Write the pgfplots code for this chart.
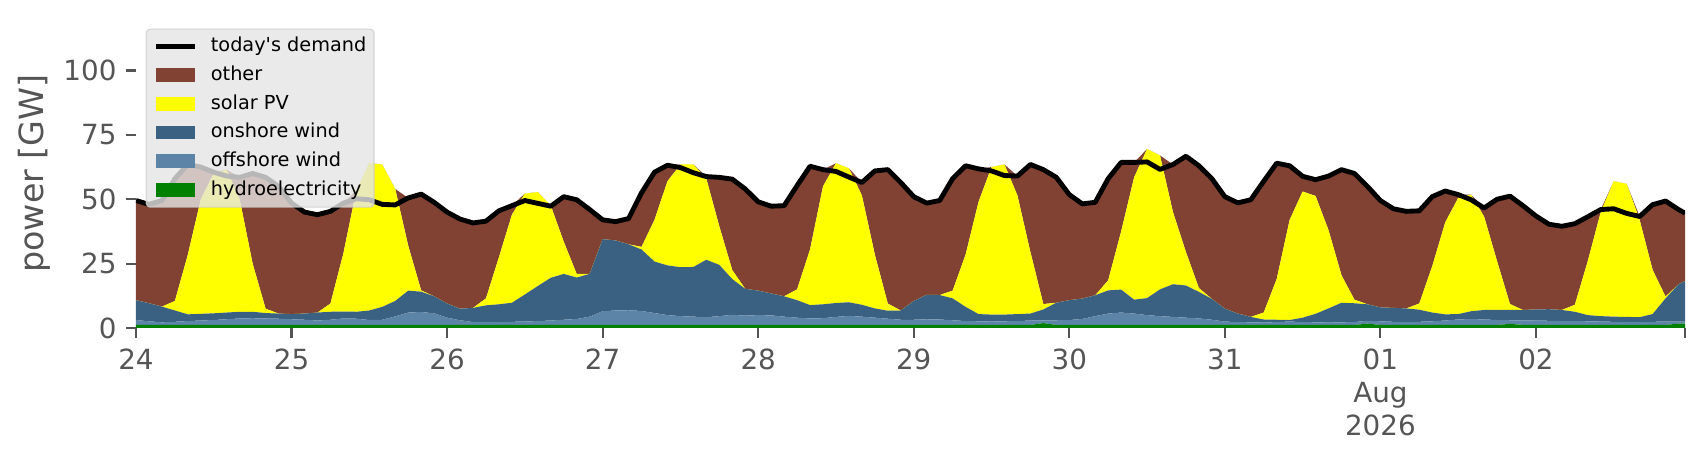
\documentclass[border=0pt]{standalone}
\usepackage{fontspec}
\setmainfont{DejaVu Sans}
\usepackage{pgfplots}
\usepackage{pgfplotstable}
\pgfplotsset{compat=1.18}
\definecolor{cother}{HTML}{814234}
\definecolor{csolar}{HTML}{FFFF00}
\definecolor{conshore}{HTML}{3B6182}
\definecolor{coffshore}{HTML}{5C84A6}
\definecolor{chydro}{HTML}{008000}
\definecolor{cgray}{HTML}{555555}
\definecolor{clegbg}{HTML}{E5E5E5}
\definecolor{clegedge}{HTML}{CCCCCC}
\pgfplotstableread{
h hydro off on sol oth dem
0 1.2 1.9 7.7 0 38.7 49.5
2 1.2 1.4 7.0 0 38.4 48.0
4 1.2 1.0 6.1 0 41.2 49.5
6 1.2 1.2 4.4 3.7 47.5 58.0
8 1.2 1.5 2.6 23.2 35.0 63.5
10 1.2 1.7 2.6 44.5 12.5 62.5
12 1.2 1.9 2.6 54.3 0.5 60.5
14 1.2 2.2 2.6 55.5 0 59.0
16 1.2 2.5 2.6 43.7 8.5 58.5
18 1.2 2.6 2.5 18.7 35.0 60.0
20 1.2 2.5 2.1 1.7 51.0 58.5
22 1.2 2.4 2.0 0 49.4 55.0
24 1.2 2.2 2.0 0 43.1 48.5
26 1.2 2.0 2.4 0 39.4 45.0
28 1.2 1.7 3.1 0 38.0 44.0
30 1.2 2.0 3.1 3.2 35.8 45.3
32 1.2 2.5 2.7 22.6 19.5 48.5
34 1.2 2.4 2.7 47.2 0 50.2
36 1.2 1.9 3.7 57.2 0 49.8
38 1.2 2.0 5.0 55.3 0 48.0
40 1.2 3.3 6.0 43.5 0 47.8
42 1.2 4.8 8.5 17.5 18.5 50.5
44 1.2 5.0 7.9 0.5 37.4 52.0
46 1.2 4.5 6.6 0 36.5 48.8
48 1.2 2.8 5.5 0 35.5 45.0
50 1.2 1.8 4.5 0 34.8 42.3
52 1.2 1.1 5.5 0 33.0 40.8
54 1.2 1.1 6.5 2.7 30.0 41.5
56 1.2 1.1 6.9 18.3 18.0 45.5
58 1.2 1.2 7.4 34.2 3.5 47.5
60 1.2 1.3 10.5 39.2 0 49.5
62 1.2 1.5 13.6 36.5 0 48.4
64 1.2 1.7 16.6 28.0 0 47.3
66 1.2 2.0 17.8 12.5 17.5 51.0
68 1.2 2.3 16.1 1.4 28.8 49.8
70 1.2 3.2 16.6 0 25.0 46.0
72 1.2 5.3 28.0 0 7.5 42.0
74 1.2 5.6 27.2 0 7.3 41.3
76 1.2 5.7 25.6 0 10.0 42.5
78 1.2 5.4 23.9 1.0 21.0 52.5
80 1.2 4.6 20.0 16.2 18.5 60.5
82 1.2 3.8 19.3 32.7 6.2 63.2
84 1.2 3.4 19.0 39.9 0 62.3
86 1.2 3.2 19.3 39.8 0 60.3
88 1.2 3.0 22.3 31.5 0.8 58.8
90 1.2 3.4 19.9 15.0 19.0 58.5
92 1.2 3.9 13.9 3.5 35.3 57.8
94 1.2 3.6 10.4 0 38.8 54.0
96 1.2 3.8 9.5 0 34.5 49.0
98 1.2 3.7 8.5 0 33.9 47.3
100 1.2 3.2 7.9 0 35.2 47.5
102 1.2 2.8 6.8 4.2 40.3 55.3
104 1.2 2.5 5.2 21.6 32.3 62.8
106 1.2 2.6 5.4 45.8 6.5 61.5
108 1.2 3.1 5.4 54.3 0 60.8
110 1.2 3.5 5.3 52.0 0 58.6
112 1.2 3.2 4.6 42.5 5.0 56.5
114 1.2 2.8 3.6 20.9 32.5 61.0
116 1.2 2.4 3.1 2.8 52.0 61.5
118 1.2 2.0 3.6 0 49.7 56.5
120 1.2 2.0 7.3 0 40.5 51.0
122 1.2 2.2 9.5 0 35.6 48.5
124 1.2 2.1 9.5 0 36.7 49.5
126 1.2 1.8 8.5 3.0 43.5 58.0
128 1.2 1.5 5.5 20.3 34.5 63.0
130 1.2 1.4 2.8 43.6 12.8 61.8
132 1.2 1.3 2.7 57.3 0 61.0
134 1.2 1.4 2.6 58.3 0 59.2
136 1.2 1.5 2.7 46.1 7.5 59.0
138 1.2 1.7 2.7 23.9 34.0 63.5
140 1.9 1.1 4.2 2.1 52.2 61.5
142 1.2 1.8 6.8 0 48.7 58.5
144 1.2 1.9 7.7 0 41.0 51.8
146 1.2 2.3 7.9 0 36.8 48.2
148 1.2 3.4 8.1 0 36.1 48.8
150 1.2 4.4 9.0 3.9 39.5 58.0
152 1.2 4.8 8.9 22.6 26.8 64.3
154 1.2 4.4 5.4 47.5 5.8 64.3
156 1.2 3.8 6.6 57.9 0 64.5
158 1.2 3.4 10.4 52.0 0 61.6
160 1.2 3.1 12.7 28.0 18.5 63.5
162 1.2 2.8 12.5 13.0 37.2 66.7
164 1.2 2.5 10.3 1.5 47.5 63.0
166 1.2 2.0 8.1 0 46.7 58.0
168 1.2 1.3 5.0 0 43.5 51.0
170 1.2 1.1 3.3 0 43.0 48.6
172 1.2 1.0 2.1 0 45.5 49.8
174 1.2 0.9 1.2 2.7 51.0 57.0
176 1.2 1.1 0.9 15.8 45.0 64.0
178 1.2 1.3 0.6 38.9 21.0 63.0
180 1.2 1.1 1.7 49.0 5.9 58.9
182 1.2 1.0 3.3 45.8 6.3 57.6
184 1.2 0.9 5.5 30.4 21.0 59.0
186 1.2 1.0 7.6 10.7 41.0 61.5
188 1.2 1.1 7.3 1.4 49.0 60.0
190 1.7 1.1 6.4 0 45.8 55.0
192 1.2 1.4 5.4 0 41.5 49.5
194 1.2 1.2 5.4 0 38.5 46.3
196 1.2 1.1 5.3 0 37.7 45.3
198 1.2 1.2 4.7 2.4 36.0 45.5
200 1.2 1.4 3.4 18.0 27.0 51.0
202 1.2 1.7 2.4 35.7 12.2 53.2
204 1.2 2.1 2.1 45.1 1.3 51.8
206 1.2 2.3 3.0 45.3 0 49.8
208 1.2 2.1 3.7 36.3 3.3 46.6
210 1.2 1.9 3.9 19.0 24.0 50.0
212 1.6 1.4 4.0 2.3 41.9 51.2
214 1.2 1.8 4.0 0 40.5 47.5
216 1.2 1.7 4.3 0 36.3 43.5
218 1.2 1.6 4.5 0 33.0 40.3
220 1.2 1.5 4.3 0 32.5 39.5
222 1.2 1.5 3.6 2.7 31.5 40.5
224 1.2 1.4 2.4 21.0 17.2 43.2
226 1.2 1.3 2.1 40.4 1.0 46.0
228 1.2 1.2 2.0 52.6 0 46.3
230 1.2 1.1 2.0 51.7 0 44.5
232 1.2 1.1 1.9 37.8 1.3 43.3
234 1.2 1.2 3.0 17.2 25.3 47.9
236 1.2 1.3 9.0 0.7 37.1 49.3
238 1.7 0.8 14.5 0 29.0 46.0
239 1.7 0.8 15.7 0 26.4 44.6
}\gendata
\pgfplotsset{
  arealeg/.style={legend image code/.code={\fill[##1,fill opacity=1,draw=none,sharp corners] (0pt,-2.43pt) rectangle (13.9pt,2.43pt); \path (19.44pt,0pt);}},
  lineleg/.style={legend image code/.code={\draw[##1,draw opacity=1,sharp corners,line width=1.75pt] (0pt,0pt) -- (13.9pt,0pt); \path (19.44pt,0pt);}},
  myframe/.style={at={(0pt,0pt)}, anchor=south west,
    width=557.64pt, height=111.24pt, scale only axis,
    xmin=0, xmax=239, ymin=0, ymax=120},
}
\begin{document}
\begin{tikzpicture}
\useasboundingbox (-48.96pt,-47.52pt) rectangle (565.2pt,118.08pt);
\begin{axis}[
  myframe,
  axis lines*=left, axis line style={draw=none},
  tick align=outside, major tick length=3.5pt,
  every tick/.style={cgray, line width=0.8pt},
  xtick={0,24,48,72,96,120,144,168,192,216,239},
  xticklabels={24,25,26,27,28,29,30,31,{01\\Aug\\2026},02,{}},
  ytick={0,25,50,75,100}, yticklabels={0,25,50,75,100},
  /pgf/number format/assume math mode=true,
  tick label style={font=\fontsize{10}{12}\selectfont, text=cgray, inner sep=0pt},
  xticklabel style={align=center},
  xticklabel shift=3.7pt, yticklabel shift=3.34pt,
  ylabel={power [GW]},
  ylabel style={at={(axis description cs:-0.06585,0.5)}, anchor=center, font=\fontsize{12}{14.4}\selectfont, text=cgray, inner sep=0pt},
  stack plots=y,
]
\addplot[fill=chydro, draw=none] table[x=h,y=hydro]{\gendata} \closedcycle;
\addplot[fill=coffshore, draw=none] table[x=h,y=off]{\gendata} \closedcycle;
\addplot[fill=conshore, draw=none] table[x=h,y=on]{\gendata} \closedcycle;
\addplot[fill=csolar, draw=none] table[x=h,y=sol]{\gendata} \closedcycle;
\addplot[fill=cother, draw=none] table[x=h,y=oth]{\gendata} \closedcycle;
\end{axis}
\begin{axis}[
  myframe, hide axis,
  legend cell align=left,
  legend style={at={(axis description cs:0,1)}, anchor=north west, xshift=3.47pt, yshift=-3.47pt,
    fill=clegbg, fill opacity=0.8, draw=clegedge, draw opacity=0.8, text opacity=1,
    rounded corners=1.4pt, inner sep=2.78pt, row sep=3.47pt,
    font=\fontsize{6.94}{8.33}\selectfont,
    nodes={inner sep=0pt, text height=5.3pt, text depth=1.56pt}},
]
\addplot[draw=black, line width=1.75pt, line join=round, forget plot] table[x=h,y=dem]{\gendata};
\addlegendimage{lineleg, black}
\addlegendentry{today\textquotesingle s demand}
\addlegendimage{arealeg, fill=cother}
\addlegendentry{other}
\addlegendimage{arealeg, fill=csolar}
\addlegendentry{solar PV}
\addlegendimage{arealeg, fill=conshore}
\addlegendentry{onshore wind}
\addlegendimage{arealeg, fill=coffshore}
\addlegendentry{offshore wind}
\addlegendimage{arealeg, fill=chydro}
\addlegendentry{hydroelectricity}
\end{axis}
\end{tikzpicture}
\end{document}
